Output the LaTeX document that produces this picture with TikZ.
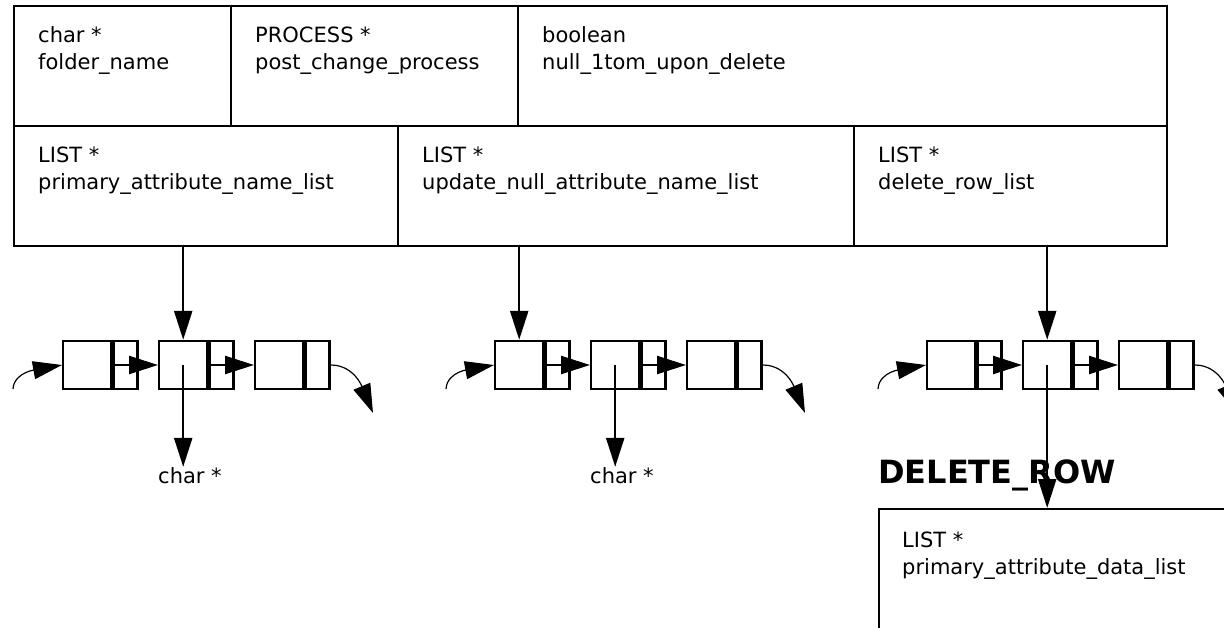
\documentclass[tikz,border=0pt]{standalone}
\usepackage{fontspec}
\setmainfont{DejaVu Sans}
\usetikzlibrary{arrows.meta}

\tikzset{
	cell/.style={draw=black, line width=2.4pt, anchor=north west, inner sep=0pt, minimum height=120pt},
	txt/.style={anchor=base west, align=left, inner sep=0pt, font=\fontsize{21}{27}\selectfont},
	dcell/.style={draw=black, line width=2.4pt, minimum width=48pt, minimum height=48pt, inner sep=0pt, anchor=west},
	pcell/.style={draw=black, line width=2.4pt, minimum width=24pt, minimum height=48pt, inner sep=0pt, anchor=west},
	ptr/.style={line width=2.4pt, -{Triangle[length=29pt,width=18pt]}},
	wrap/.style={line width=1.2pt, -{Triangle[length=29pt,width=18pt]}},
}

\begin{document}
\begin{tikzpicture}[x=1pt, y=-1pt]
	\useasboundingbox (0,0) rectangle (1224,628);
	\clip (0,0) rectangle (1224,628);

	% the structure
	\node[cell, minimum width=217pt] (fold) at (13,5)   {};
	\node[cell, minimum width=287pt] (proc) at (230,5)  {};
	\node[cell, minimum width=649pt] (nul)  at (517,5)  {};
	\node[cell, minimum width=384pt] (pan)  at (13,125) {};
	\node[cell, minimum width=456pt] (upd)  at (397,125) {};
	\node[cell, minimum width=313pt] (drl)  at (853,125) {};

	% base of a two line node is its last line
	\node[txt] (foldt) at (38,70)   {char *\\folder\_name};
	\node[txt] (proct) at (255,70)  {PROCESS *\\post\_change\_process};
	\node[txt] (nult)  at (542,70)  {boolean\\null\_1tom\_upon\_delete};
	\node[txt] (pant)  at (38,190)  {LIST *\\primary\_attribute\_name\_list};
	\node[txt] (updt)  at (422,190) {LIST *\\update\_null\_attribute\_name\_list};
	\node[txt] (drlt)  at (878,190) {LIST *\\delete\_row\_list};

	% the lists
	\node[dcell] (a1) at (62,365)   {};  \node[pcell] (a1p) at (a1.east) {};
	\node[dcell] (a2) at (158,365)  {};  \node[pcell] (a2p) at (a2.east) {};
	\node[dcell] (a3) at (254,365)  {};  \node[pcell] (a3p) at (a3.east) {};
	\node[dcell] (b1) at (494,365)  {};  \node[pcell] (b1p) at (b1.east) {};
	\node[dcell] (b2) at (590,365)  {};  \node[pcell] (b2p) at (b2.east) {};
	\node[dcell] (b3) at (686,365)  {};  \node[pcell] (b3p) at (b3.east) {};
	\node[dcell] (c1) at (926,365)  {};  \node[pcell] (c1p) at (c1.east) {};
	\node[dcell] (c2) at (1022,365) {};  \node[pcell] (c2p) at (c2.east) {};
	\node[dcell] (c3) at (1118,365) {};  \node[pcell] (c3p) at (c3.east) {};

	\coordinate (ina) at (13,389);   \coordinate (outa) at (373,413);
	\coordinate (inb) at (446,389);  \coordinate (outb) at (805,413);
	\coordinate (inc) at (878,389);  \coordinate (outc) at (1237,413);

	\node[txt] (chara) at (158,483) {char *};
	\node[txt] (charb) at (590,483) {char *};
	\node[anchor=base west, inner sep=0pt, font=\fontsize{32}{36}\selectfont\bfseries] (drow) at (878,483) {DELETE\_ROW};
	\node[cell, minimum width=400pt, minimum height=200pt] (drbox) at (878,508) {};
	\node[txt] (drboxt) at (902,574) {LIST *\\primary\_attribute\_data\_list};

	\draw[ptr] (a1p.west) -- (a2.west);
	\draw[ptr] (a2p.west) -- (a3.west);
	\draw[ptr] (b1p.west) -- (b2.west);
	\draw[ptr] (b2p.west) -- (b3.west);
	\draw[ptr] (c1p.west) -- (c2.west);
	\draw[ptr] (c2p.west) -- (c3.west);

	\draw[wrap] (ina) .. controls +(1,-18) and +(-22,4) .. (a1.west);
	\draw[wrap] (inb) .. controls +(1,-18) and +(-22,4) .. (b1.west);
	\draw[wrap] (inc) .. controls +(1,-18) and +(-22,4) .. (c1.west);
	\draw[wrap] (a3p.east) .. controls +(24,0) and +(-10,-24) .. (outa);
	\draw[wrap] (b3p.east) .. controls +(24,0) and +(-10,-24) .. (outb);
	\draw[wrap] (c3p.east) .. controls +(24,0) and +(-10,-24) .. (outc);

	\draw[ptr] (a2 |- pan.south) -- (a2.north);
	\draw[ptr] (b1 |- upd.south) -- (b1.north);
	\draw[ptr] (c2 |- drl.south) -- (c2.north);
	\draw[ptr] (a2.center) -- (a2.center |- chara.north);
	\draw[ptr] (b2.center) -- (b2.center |- charb.north);
	\draw[ptr] (c2.center) -- (c2.center |- drbox.north);
\end{tikzpicture}
\end{document}
